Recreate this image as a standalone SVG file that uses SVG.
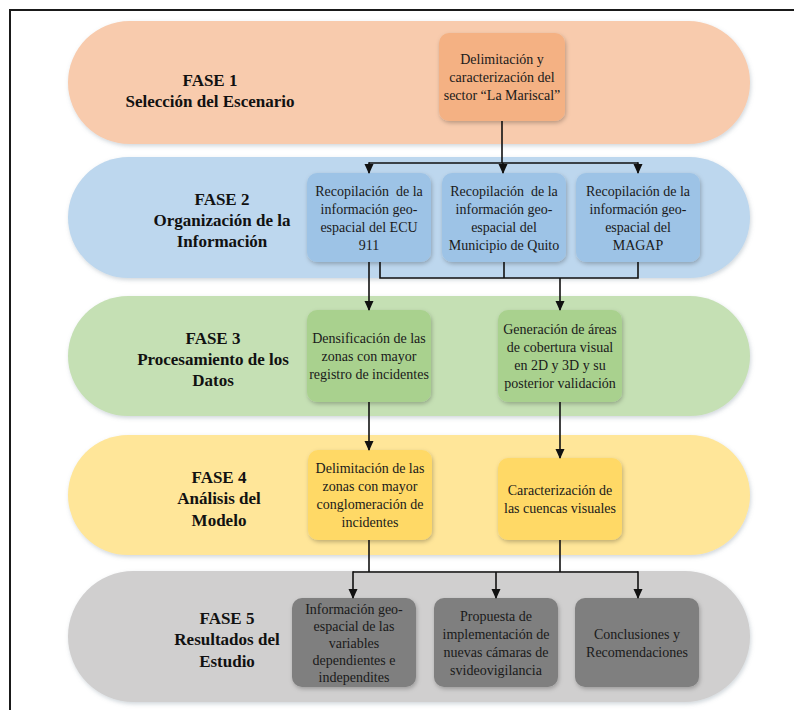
<svg xmlns="http://www.w3.org/2000/svg" width="794" height="710" viewBox="0 0 794 710">
  <defs>
    <filter id="soft" x="-10%" y="-20%" width="120%" height="150%">
      <feDropShadow dx="1" dy="2" stdDeviation="2" flood-color="#7a8a99" flood-opacity="0.35"/>
    </filter>
    <filter id="boxshadow" x="-15%" y="-15%" width="130%" height="135%">
      <feDropShadow dx="1" dy="2" stdDeviation="2" flood-color="#000" flood-opacity="0.25"/>
    </filter>
    <marker id="arrow" markerWidth="10" markerHeight="10" refX="9" refY="5" orient="auto" markerUnits="userSpaceOnUse">
      <path d="M0,0.5 L10,5 L0,9.5 Z" fill="#111"/>
    </marker>
    <style>
      text { font-family: "Liberation Serif", "Times New Roman", "DejaVu Serif", serif; text-anchor: middle; }
      .title { font-size: 17px; font-weight: bold; fill: #111; }
      .label { font-size: 14px; fill: #1a1a1a; }
      .band { filter: url(#soft); }
      .box { filter: url(#boxshadow); }
      .wire { fill: none; stroke: #111; stroke-width: 1.6; }
    </style>
  </defs>

  <rect width="794" height="710" fill="#ffffff"/>
  <!-- page frame (top and left edges) -->
  <path d="M10,710 V10 H794" fill="none" stroke="#1a1a1a" stroke-width="2"/>

  <!-- FASE 1 -->
  <g id="fase1">
    <rect class="band" x="68" y="21" width="682" height="123" rx="61.5" fill="#f8cbad"/>
    <text class="title" x="210" y="86">FASE 1</text>
    <text class="title" x="210" y="107">Selección del Escenario</text>
  </g>
  <g id="f1-delimitacion">
    <rect class="box" x="439" y="33" width="126" height="88" rx="10" fill="#f4b183"/>
    <text class="label" x="502" y="64">Delimitación y</text>
    <text class="label" x="502" y="82">caracterización del</text>
    <text class="label" x="502" y="100">sector “La Mariscal”</text>
  </g>

  <!-- FASE 2 -->
  <g id="fase2">
    <rect class="band" x="68" y="157" width="682" height="121" rx="60.5" fill="#bdd7ee"/>
    <text class="title" x="222" y="205">FASE 2</text>
    <text class="title" x="222" y="226">Organización de la</text>
    <text class="title" x="222" y="247">Información</text>
  </g>
  <g id="f2-ecu911">
    <rect class="box" x="307" y="173" width="124" height="89" rx="10" fill="#9dc3e6"/>
    <text class="label" x="369" y="195.5" xml:space="preserve">Recopilación  de la</text>
    <text class="label" x="369" y="213.5">información geo-</text>
    <text class="label" x="369" y="231.5">espacial del ECU</text>
    <text class="label" x="369" y="249.5">911</text>
  </g>
  <g id="f2-municipio">
    <rect class="box" x="442" y="173" width="124" height="89" rx="10" fill="#9dc3e6"/>
    <text class="label" x="504" y="195.5" xml:space="preserve">Recopilación  de la</text>
    <text class="label" x="504" y="213.5">información geo-</text>
    <text class="label" x="504" y="231.5">espacial del</text>
    <text class="label" x="504" y="249.5">Municipio de Quito</text>
  </g>
  <g id="f2-magap">
    <rect class="box" x="576" y="173" width="124" height="89" rx="10" fill="#9dc3e6"/>
    <text class="label" x="638" y="195.5">Recopilación de la</text>
    <text class="label" x="638" y="213.5">información geo-</text>
    <text class="label" x="638" y="231.5">espacial del</text>
    <text class="label" x="638" y="249.5">MAGAP</text>
  </g>

  <!-- FASE 3 -->
  <g id="fase3">
    <rect class="band" x="68" y="296" width="682" height="120" rx="60" fill="#c5e0b4"/>
    <text class="title" x="213" y="344">FASE 3</text>
    <text class="title" x="213" y="365">Procesamiento de los</text>
    <text class="title" x="213" y="386">Datos</text>
  </g>
  <g id="f3-densificacion">
    <rect class="box" x="307" y="310" width="124" height="92" rx="10" fill="#a9d18e"/>
    <text class="label" x="369" y="343">Densificación de las</text>
    <text class="label" x="369" y="361">zonas con mayor</text>
    <text class="label" x="369" y="379">registro de incidentes</text>
  </g>
  <g id="f3-cobertura">
    <rect class="box" x="498" y="310" width="124" height="92" rx="10" fill="#a9d18e"/>
    <text class="label" x="560" y="334">Generación de áreas</text>
    <text class="label" x="560" y="352">de cobertura visual</text>
    <text class="label" x="560" y="370">en 2D y 3D y su</text>
    <text class="label" x="560" y="388">posterior validación</text>
  </g>

  <!-- FASE 4 -->
  <g id="fase4">
    <rect class="band" x="68" y="435" width="682" height="120" rx="60" fill="#ffe699"/>
    <text class="title" x="219" y="483">FASE 4</text>
    <text class="title" x="219" y="504">Análisis del</text>
    <text class="title" x="219" y="526">Modelo</text>
  </g>
  <g id="f4-conglomeracion">
    <rect class="box" x="308" y="450" width="124" height="90" rx="10" fill="#ffd966"/>
    <text class="label" x="370" y="473">Delimitación de las</text>
    <text class="label" x="370" y="491">zonas con mayor</text>
    <text class="label" x="370" y="509">conglomeración de</text>
    <text class="label" x="370" y="527">incidentes</text>
  </g>
  <g id="f4-cuencas">
    <rect class="box" x="498" y="458" width="124" height="82" rx="10" fill="#ffd966"/>
    <text class="label" x="560" y="495">Caracterización de</text>
    <text class="label" x="560" y="513">las cuencas visuales</text>
  </g>

  <!-- FASE 5 -->
  <g id="fase5">
    <rect class="band" x="68" y="571" width="682" height="131" rx="65.5" fill="#d0cfcf"/>
    <text class="title" x="227" y="624">FASE 5</text>
    <text class="title" x="227" y="645">Resultados del</text>
    <text class="title" x="227" y="667">Estudio</text>
  </g>
  <g id="f5-variables">
    <rect class="box" x="292" y="598" width="124" height="89" rx="10" fill="#7f7f7f"/>
    <text class="label" x="354" y="613.5">Información geo-</text>
    <text class="label" x="354" y="630.5">espacial de las</text>
    <text class="label" x="354" y="647.5">variables</text>
    <text class="label" x="354" y="664.5">dependientes e</text>
    <text class="label" x="354" y="681.5">independites</text>
  </g>
  <g id="f5-camaras">
    <rect class="box" x="434" y="598" width="124" height="89" rx="10" fill="#7f7f7f"/>
    <text class="label" x="496" y="620.5">Propuesta de</text>
    <text class="label" x="496" y="638.5">implementación de</text>
    <text class="label" x="496" y="656.5">nuevas cámaras de</text>
    <text class="label" x="496" y="674.5">svideovigilancia</text>
  </g>
  <g id="f5-conclusiones">
    <rect class="box" x="575" y="598" width="124" height="89" rx="10" fill="#7f7f7f"/>
    <text class="label" x="637" y="638.5">Conclusiones y</text>
    <text class="label" x="637" y="656.5">Recomendaciones</text>
  </g>

  <!-- connectors -->
  <g id="connectors">
    <!-- fase 1 to fase 2 -->
    <path class="wire" d="M502,121 V163"/>
    <path class="wire" d="M369,163 H638"/>
    <path class="wire" d="M369,162.2 V173" marker-end="url(#arrow)"/>
    <path class="wire" d="M503,163 V173" marker-end="url(#arrow)"/>
    <path class="wire" d="M638,162.2 V173" marker-end="url(#arrow)"/>
    <!-- fase 2 to fase 3 -->
    <path class="wire" d="M369,262 V310" marker-end="url(#arrow)"/>
    <path class="wire" d="M380,262 V278 H638 V262"/>
    <path class="wire" d="M504,262 V278"/>
    <path class="wire" d="M560,278 V310" marker-end="url(#arrow)"/>
    <!-- fase 3 to fase 4 -->
    <path class="wire" d="M369,402 V450" marker-end="url(#arrow)"/>
    <path class="wire" d="M560,402 V458" marker-end="url(#arrow)"/>
    <!-- fase 4 to fase 5 -->
    <path class="wire" d="M369,540 V572"/>
    <path class="wire" d="M560,540 V572"/>
    <path class="wire" d="M353,572 H638"/>
    <path class="wire" d="M353,571.2 V598" marker-end="url(#arrow)"/>
    <path class="wire" d="M496,572 V598" marker-end="url(#arrow)"/>
    <path class="wire" d="M638,571.2 V598" marker-end="url(#arrow)"/>
  </g>
</svg>
